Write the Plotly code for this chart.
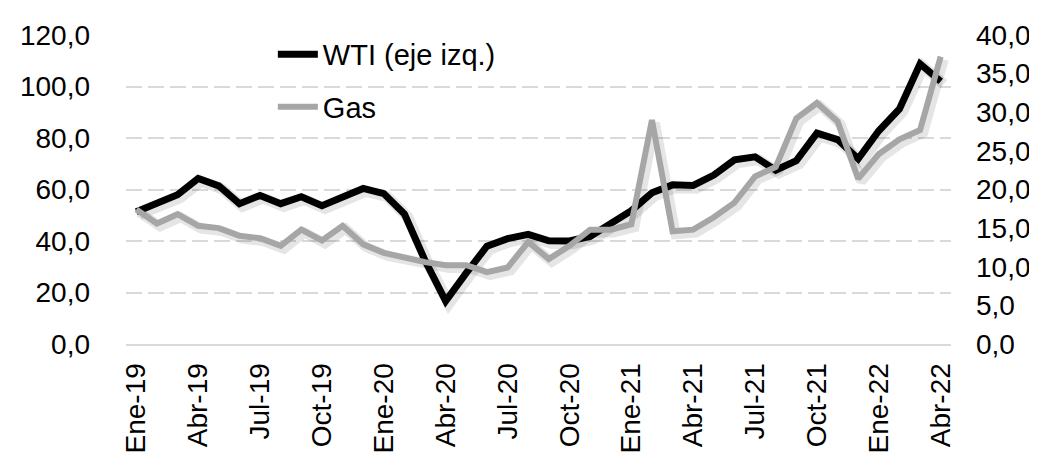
import plotly.graph_objects as go

month_abbr = ["Ene", "Feb", "Mar", "Abr", "May", "Jun", "Jul", "Ago", "Sep", "Oct", "Nov", "Dic"]
years = ["19", "20", "21", "22"]
months = [f"{m}-{y}" for y in years for m in month_abbr][:40]  # Ene-19 .. Abr-22
tick_idx = list(range(0, 40, 3))
tick_labels = [months[i] for i in tick_idx]

wti = [51.4, 54.9, 58.0, 64.3, 61.4, 54.5, 57.7, 54.5, 57.2, 53.7,
       57.4, 60.4, 58.4, 50.5, 32.4, 16.7, 27.6, 38.0, 40.9, 42.6,
       40.1, 40.0, 41.8, 47.2, 51.8, 58.7, 61.8, 61.6, 65.6, 71.5,
       72.7, 67.5, 71.2, 81.9, 79.4, 71.9, 82.8, 91.3, 108.8, 102.0]
gas = [17.4, 15.6, 16.8, 15.3, 15.0, 14.0, 13.7, 12.7, 14.8, 13.4,
       15.3, 12.9, 11.8, 11.2, 10.6, 10.2, 10.2, 9.3, 9.9, 13.2,
       11.0, 12.7, 14.8, 14.8, 15.5, 29.0, 14.6, 14.8, 16.4, 18.3,
       21.7, 22.9, 29.2, 31.2, 28.8, 21.4, 24.6, 26.5, 27.7, 37.2]

FONT = "Liberation Sans, Arial, sans-serif"
x = list(range(len(months)))

# soft drop shadow (offset a few pixels right/down), as in the original Excel styling
sx = [i + 0.15 for i in x]
fig = go.Figure()
fig.add_trace(go.Scatter(x=sx, y=[v - 1.1 for v in wti], mode="lines", hoverinfo="skip",
                         line=dict(color="rgba(0,0,0,0.10)", width=11), showlegend=False, yaxis="y"))
fig.add_trace(go.Scatter(x=sx, y=[v - 0.37 for v in gas], mode="lines", hoverinfo="skip",
                         line=dict(color="rgba(0,0,0,0.10)", width=10), showlegend=False, yaxis="y2"))
fig.add_trace(go.Scatter(x=x, y=wti, name="WTI (eje izq.)", mode="lines", text=months,
                         line=dict(color="black", width=7), legendgroup="a", yaxis="y"))
fig.add_trace(go.Scatter(x=x, y=gas, name="Gas", mode="lines", text=months,
                         line=dict(color="#a6a6a6", width=6), legendgroup="b", yaxis="y2"))

fig.update_layout(
    width=1037, height=457,
    margin=dict(l=116, r=94, t=27, b=111),
    paper_bgcolor="white", plot_bgcolor="white",
    separators=",.",
    font=dict(family=FONT, size=28, color="black"),
    showlegend=True,
    legend=dict(x=0.178, y=1.02, xanchor="left", yanchor="top",
                font=dict(size=29), bgcolor="rgba(0,0,0,0)",
                traceorder="grouped", tracegroupgap=12,
                itemwidth=40),
    xaxis=dict(tickmode="array", tickvals=tick_idx, ticktext=tick_labels,
               tickangle=-90, showgrid=False, showline=True, linecolor="#d9d9d9", linewidth=2,
               ticks="", ticklabelstandoff=6, range=[-0.5, 39.5], zeroline=False),
    yaxis=dict(range=[0, 120], dtick=20, tickformat=".1f", showgrid=True,
               gridcolor="#d9d9d9", gridwidth=2, griddash="16px,6px", zeroline=False,
               showline=False, ticks="", ticklabelstandoff=35),
    yaxis2=dict(range=[0, 40], dtick=5, tickformat=".1f", overlaying="y", side="right",
                showgrid=False, zeroline=False, showline=False, ticks="", ticklabelstandoff=24),
)

fig.write_html("out.html")
